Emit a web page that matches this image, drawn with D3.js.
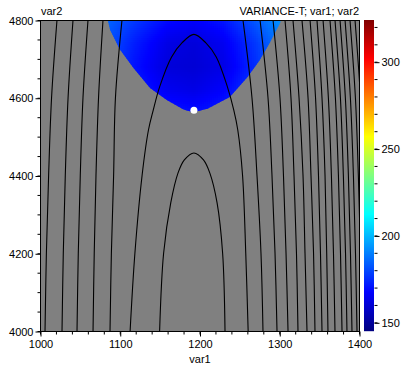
<!DOCTYPE html>
<html><head><meta charset="utf-8">
<script src="https://cdn.jsdelivr.net/npm/d3@7"></script>
<style>
body{margin:0;background:#fff}
svg{display:block}
text{font-family:"Liberation Sans",Arial,sans-serif;font-size:11px;fill:#000}
</style>
</head><body><svg id="c" width="409" height="371"></svg>
<script>
// ---------- data ----------
const var1Domain = [1000, 1400];
const var2Domain = [4000, 4800];
const var1Ticks = [1000, 1100, 1200, 1300, 1400];
const var1Minor = d3.range(1000, 1401, 20);
const var2Ticks = [4000, 4200, 4400, 4600, 4800];
const var2Minor = d3.range(4000, 4801, 50);
const colorDomain = [145, 324];
const colorTicks = [150, 200, 250, 300];
const colorMinor = d3.range(150, 321, 10);
const optimum = [1193, 4568];

// boundary of coloured (valid) region
const regionVar1 = [1080, 1085, 1088, 1100, 1117, 1138, 1159, 1180, 1192, 1210, 1238, 1260, 1275, 1288, 1301, 1306];
const regionVar2 = [4830, 4800, 4774, 4725, 4677, 4625, 4594, 4570, 4563, 4572, 4602, 4653, 4695, 4741, 4792, 4830];

// VARIANCE-T values read on a coarse grid
const gridVar1 = [1080, 1120, 1160, 1193, 1230, 1270, 1310];
const gridVar2 = [4800, 4740, 4680, 4620, 4560];
const varianceGrid = [
  [186, 177, 169, 167, 171, 183, 196],
  [183, 172, 163, 161, 165, 177, 192],
  [181, 170, 161, 160, 163, 175, 190],
  [183, 173, 165, 163, 167, 179, 192],
  [186, 179, 172, 170, 173, 185, 196]
];

// contour lines: var1 position at each var2 row
const contourVar2 = [4800, 4600, 4400, 4200, 4000];
const contourVar1 = [
  [1021.3, 1014.5, 1010.8, 1008.0, 1006.3],
  [1041.4, 1035.2, 1031.7, 1029.2, 1027.6],
  [1060.2, 1053.9, 1050.5, 1048.0, 1046.4],
  [1079.0, 1073.4, 1070.2, 1068.0, 1066.5],
  [1102.8, 1094.6, 1092.3, 1089.5, 1087.8],
  [1254.5, 1265.8, 1272.1, 1277.1, 1279.6],
  [1275.9, 1285.9, 1290.9, 1294.7, 1297.2],
  [1292.2, 1300.9, 1305.3, 1308.5, 1311.0],
  [1307.2, 1314.7, 1318.5, 1321.6, 1323.5],
  [1317.2, 1324.8, 1329.8, 1332.3, 1334.8],
  [1328.5, 1336.1, 1339.8, 1343.0, 1344.8],
  [1338.6, 1345.5, 1349.2, 1351.7, 1353.6],
  [1347.3, 1353.6, 1357.4, 1359.5, 1361.1],
  [1354.9, 1361.6, 1365.4, 1368.0, 1369.9],
  [1363.6, 1370.4, 1374.2, 1376.8, 1378.7],
  [1369.9, 1376.7, 1380.4, 1383.1, 1384.9],
  [1376.2, 1382.9, 1386.7, 1389.3, 1391.2],
  [1382.5, 1389.2, 1393.0, 1395.6, 1397.5],
  [1388.7, 1395.5, 1399.2, 1401.9, 1403.8],
  [1395.0, 1401.8, 1405.5, 1408.2, 1410.0]
];
// closed-top contours (arches)
const archOuterVar1 = [1113, 1119, 1128, 1136, 1142, 1150, 1165, 1178, 1193, 1208, 1221, 1235, 1243, 1248, 1254, 1258, 1261];
const archOuterVar2 = [4000, 4200, 4400, 4517, 4568, 4628, 4705, 4741, 4763, 4741, 4705, 4628, 4568, 4517, 4400, 4200, 4000];
const archInnerVar1 = [1150, 1155, 1164, 1173, 1181, 1193, 1205, 1213, 1222, 1229, 1232];
const archInnerVar2 = [4000, 4200, 4330, 4406, 4440, 4458, 4440, 4406, 4330, 4200, 4000];

// ---------- drawing ----------
const svg = d3.select("#c");
const m = {l: 40, t: 20, r: 359, b: 331};
const x = d3.scaleLinear().domain(var1Domain).range([m.l, m.r]);
const y = d3.scaleLinear().domain(var2Domain).range([m.b, m.t]);

function jet(t) {
  t = Math.max(0, Math.min(1, t));
  const c = v => Math.round(255 * Math.max(0, Math.min(1, v)));
  return `rgb(${c(1.5 - Math.abs(4 * t - 3))},${c(1.5 - Math.abs(4 * t - 2))},${c(1.5 - Math.abs(4 * t - 1))})`;
}
const color = d3.scaleSequential(jet).domain(colorDomain);

const defs = svg.append("defs");
defs.append("clipPath").attr("id", "plotClip").append("rect")
  .attr("x", m.l).attr("y", m.t).attr("width", m.r - m.l).attr("height", m.b - m.t);

svg.append("rect").attr("x", m.l).attr("y", m.t).attr("width", m.r - m.l).attr("height", m.b - m.t)
  .attr("fill", "#808080");

// region clip
const regionPts = regionVar1.map((v, i) => [x(v), y(regionVar2[i])]);
defs.append("clipPath").attr("id", "regionClip").append("path")
  .attr("d", d3.line().curve(d3.curveLinear)(regionPts) + "Z");

function bilinear(a, b) {
  const xi = gridVar1, yi = gridVar2;
  let i = d3.bisectRight(xi, a) - 1; i = Math.max(0, Math.min(xi.length - 2, i));
  let j = 0; while (j < yi.length - 2 && b < yi[j + 1]) j++;
  const tx = (a - xi[i]) / (xi[i + 1] - xi[i]);
  const ty = (b - yi[j]) / (yi[j + 1] - yi[j]);
  const g = varianceGrid;
  const v0 = g[j][i] * (1 - tx) + g[j][i + 1] * tx;
  const v1 = g[j + 1][i] * (1 - tx) + g[j + 1][i + 1] * tx;
  return v0 * (1 - ty) + v1 * ty;
}
const cells = [];
const step = 2;
for (let px = x(1070); px < x(1320); px += step)
  for (let py = m.t; py < y(4540); py += step)
    cells.push({px, py, v: bilinear(x.invert(px + step / 2), y.invert(py + step / 2))});
const rg = svg.append("g").attr("clip-path", "url(#regionClip)").append("g").attr("clip-path", "url(#plotClip)");
rg.selectAll("rect").data(cells).join("rect")
  .attr("x", d => d.px).attr("y", d => d.py).attr("width", step + 0.5).attr("height", step + 0.5)
  .attr("fill", d => color(d.v));

// contours
const cg = svg.append("g").attr("clip-path", "url(#plotClip)")
  .attr("fill", "none").attr("stroke", "#000").attr("stroke-width", 1.1);
const line = d3.line().curve(d3.curveCatmullRom.alpha(0.5));
contourVar1.forEach(row => {
  cg.append("path").attr("d", line(row.map((v, i) => [x(v), y(contourVar2[i])])));
});
cg.append("path").attr("d", line(archOuterVar1.map((v, i) => [x(v), y(archOuterVar2[i])])));
cg.append("path").attr("d", line(archInnerVar1.map((v, i) => [x(v), y(archInnerVar2[i])])));

// optimum point
svg.append("circle").attr("cx", x(optimum[0])).attr("cy", y(optimum[1])).attr("r", 3.5).attr("fill", "#fff");

// frame
svg.append("rect").attr("x", m.l + 0.5).attr("y", m.t + 0.5).attr("width", m.r - m.l).attr("height", m.b - m.t)
  .attr("fill", "none").attr("stroke", "#000");

// axes
const xAxis = d3.axisBottom(x).tickValues(var1Ticks).tickSize(5).tickFormat(d3.format("d"));
const gx = svg.append("g").attr("transform", `translate(0.5,${m.b + 0.5})`).call(xAxis);
gx.select(".domain").remove();
gx.append("g").selectAll("line").data(var1Minor).join("line")
  .attr("x1", d => x(d)).attr("x2", d => x(d)).attr("y1", 0).attr("y2", 3).attr("stroke", "#000");
gx.selectAll("text").attr("font-size", 11).attr("font-family", null).attr("dy", "0.8em");

const yAxis = d3.axisLeft(y).tickValues(var2Ticks).tickSize(5).tickFormat(d3.format("d"));
const gy = svg.append("g").attr("transform", `translate(${m.l + 0.5},0.5)`).call(yAxis);
gy.select(".domain").remove();
gy.append("g").selectAll("line").data(var2Minor).join("line")
  .attr("y1", d => y(d)).attr("y2", d => y(d)).attr("x1", 0).attr("x2", -3).attr("stroke", "#000");
gy.selectAll("text").attr("font-size", 11).attr("font-family", null).attr("x", -7);

svg.append("text").attr("x", 200).attr("y", 363).attr("text-anchor", "middle").text("var1");
svg.append("text").attr("x", 41).attr("y", 15).text("var2");
svg.append("text").attr("x", 359).attr("y", 15).attr("text-anchor", "end").text("VARIANCE-T; var1; var2");

// colour bar
const cb = {x: 364, w: 10};
const cy = d3.scaleLinear().domain(colorDomain).range([m.b, m.t]);
const cbVals = d3.range(m.t, m.b, 1);
svg.append("g").selectAll("rect").data(cbVals).join("rect")
  .attr("x", cb.x).attr("y", d => d).attr("width", cb.w).attr("height", 1.2)
  .attr("fill", d => color(cy.invert(d + 0.5)));
const cAxis = d3.axisRight(cy).tickValues(colorTicks).tickSize(5).tickFormat(d3.format("d"));
const gc = svg.append("g").attr("transform", `translate(${cb.x + cb.w + 0.5},0.5)`).call(cAxis);
gc.select(".domain").remove();
gc.append("g").selectAll("line").data(colorMinor).join("line")
  .attr("y1", d => cy(d)).attr("y2", d => cy(d)).attr("x1", 0).attr("x2", 3).attr("stroke", "#000");
gc.selectAll("text").attr("font-size", 11).attr("font-family", null).attr("x", 7);
</script>
</body></html>
